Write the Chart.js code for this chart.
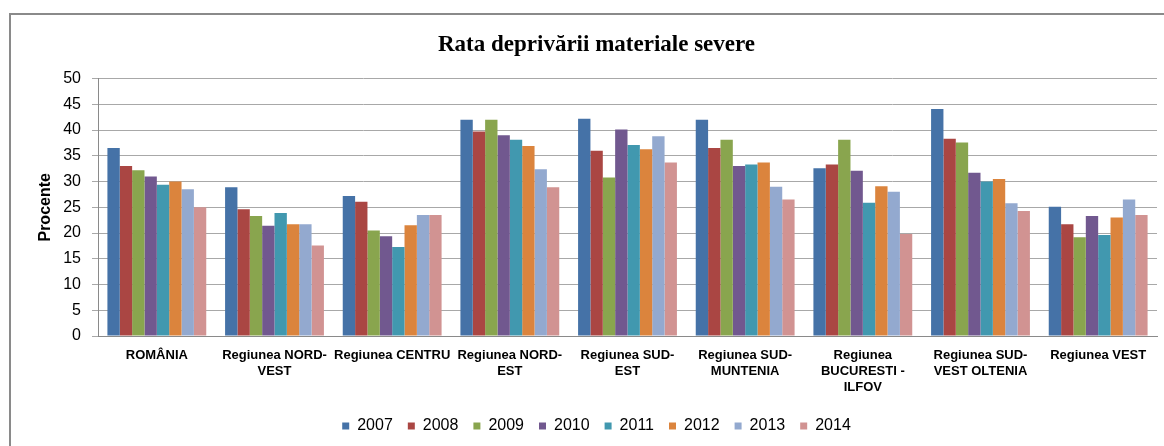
<!DOCTYPE html>
<html>
<head>
<meta charset="utf-8">
<script src="https://cdn.jsdelivr.net/npm/chart.js@4/dist/chart.umd.min.js"></script>
<style>
  html, body { margin: 0; padding: 0; background: #fff; }
  #wrap { width: 1164px; height: 446px; overflow: hidden; }
</style>
</head>
<body>
<div id="wrap"><canvas id="c" width="1164" height="446"></canvas></div>
<script>
const categories = [
  ['ROMÂNIA'],
  ['Regiunea NORD-', 'VEST'],
  ['Regiunea CENTRU'],
  ['Regiunea NORD-', 'EST'],
  ['Regiunea SUD-', 'EST'],
  ['Regiunea SUD-', 'MUNTENIA'],
  ['Regiunea', 'BUCURESTI -', 'ILFOV'],
  ['Regiunea SUD-', 'VEST OLTENIA'],
  ['Regiunea VEST']
];
const years = ['2007', '2008', '2009', '2010', '2011', '2012', '2013', '2014'];
const v2007 = [36.5, 28.9, 27.2, 42.0, 42.2, 42.0, 32.6, 44.1, 25.1];
const v2008 = [33.0, 24.6, 26.1, 39.7, 36.0, 36.5, 33.3, 38.3, 21.7];
const v2009 = [32.2, 23.3, 20.5, 42.0, 30.8, 38.1, 38.1, 37.6, 19.2];
const v2010 = [31.0, 21.4, 19.4, 39.0, 40.1, 33.0, 32.1, 31.7, 23.3];
const v2011 = [29.4, 23.9, 17.3, 38.1, 37.1, 33.3, 25.9, 30.0, 19.6];
const v2012 = [30.0, 21.7, 21.5, 36.9, 36.3, 33.7, 29.1, 30.5, 23.0];
const v2013 = [28.5, 21.7, 23.5, 32.4, 38.8, 29.0, 28.0, 25.8, 26.5];
const v2014 = [25.0, 17.6, 23.5, 28.9, 33.7, 26.5, 19.8, 24.3, 23.5];
const yTicks = [0, 5, 10, 15, 20, 25, 30, 35, 40, 45, 50];

const seriesValues = [v2007, v2008, v2009, v2010, v2011, v2012, v2013, v2014];
const colors = ['#4572A7', '#AA4643', '#89A54E', '#71588F', '#4198AF', '#DB843D', '#93A9CF', '#D19392'];

const borderPlugin = {
  id: 'frame',
  beforeDraw(chart) {
    const ctx = chart.ctx;
    ctx.save();
    ctx.fillStyle = '#ffffff';
    ctx.fillRect(0, 0, chart.width, chart.height);
    ctx.strokeStyle = '#8a8a8a';
    ctx.lineWidth = 2;
    ctx.strokeRect(10, 14, 1300, 600);
    ctx.restore();
  }
};

new Chart(document.getElementById('c'), {
  type: 'bar',
  data: {
    labels: categories,
    datasets: years.map((y, i) => ({
      label: y,
      data: seriesValues[i],
      backgroundColor: colors[i],
      borderWidth: 0,
      categoryPercentage: 0.84,
      barPercentage: 1.0
    }))
  },
  options: {
    responsive: false,
    animation: false,
    devicePixelRatio: 1,
    layout: { padding: { left: 36, right: 7, top: 0, bottom: 2 } },
    plugins: {
      title: {
        display: true,
        text: 'Rata deprivării materiale severe',
        color: '#000',
        font: { family: '"Liberation Serif", "Times New Roman", serif', size: 23, weight: 'bold' },
        padding: { top: 31, bottom: 20 }
      },
      legend: {
        position: 'bottom',
        labels: {
          color: '#000',
          boxWidth: 7,
          boxHeight: 7,
          padding: 15,
          font: { family: '"Liberation Sans", Arial, sans-serif', size: 16 }
        }
      },
      tooltip: { enabled: false }
    },
    scales: {
      x: {
        grid: { display: false, drawTicks: false, tickLength: 0 },
        border: { display: true, color: '#8a8a8a', width: 1 },
        ticks: {
          color: '#000',
          autoSkip: false,
          maxRotation: 0,
          minRotation: 0,
          padding: 11,
          font: { family: '"Liberation Sans", Arial, sans-serif', size: 13, weight: 'bold', lineHeight: '16px' }
        },
        afterFit(scale) {
          const lg = scale.chart.legend;
          scale.height = scale.chart.height - 2 - (lg ? lg.height : 0) - 336;
        }
      },
      y: {
        min: 0,
        max: 50,
        afterBuildTicks(scale) {
          scale.ticks = yTicks.map(v => ({ value: v }));
        },
        grid: { color: '#a8a8a8', lineWidth: 1, drawTicks: true, tickLength: 6 },
        border: { display: true, color: '#8a8a8a', width: 1 },
        ticks: {
          color: '#000',
          padding: 11,
          font: { family: '"Liberation Sans", Arial, sans-serif', size: 16 }
        },
        title: {
          display: true,
          text: 'Procente',
          color: '#000',
          font: { family: '"Liberation Sans", Arial, sans-serif', size: 16, weight: 'bold' },
          padding: { top: 0.4, bottom: 0 }
        },
        afterFit(scale) {
          scale.width = 62;
        }
      }
    }
  },
  plugins: [borderPlugin]
});
</script>
</body>
</html>
